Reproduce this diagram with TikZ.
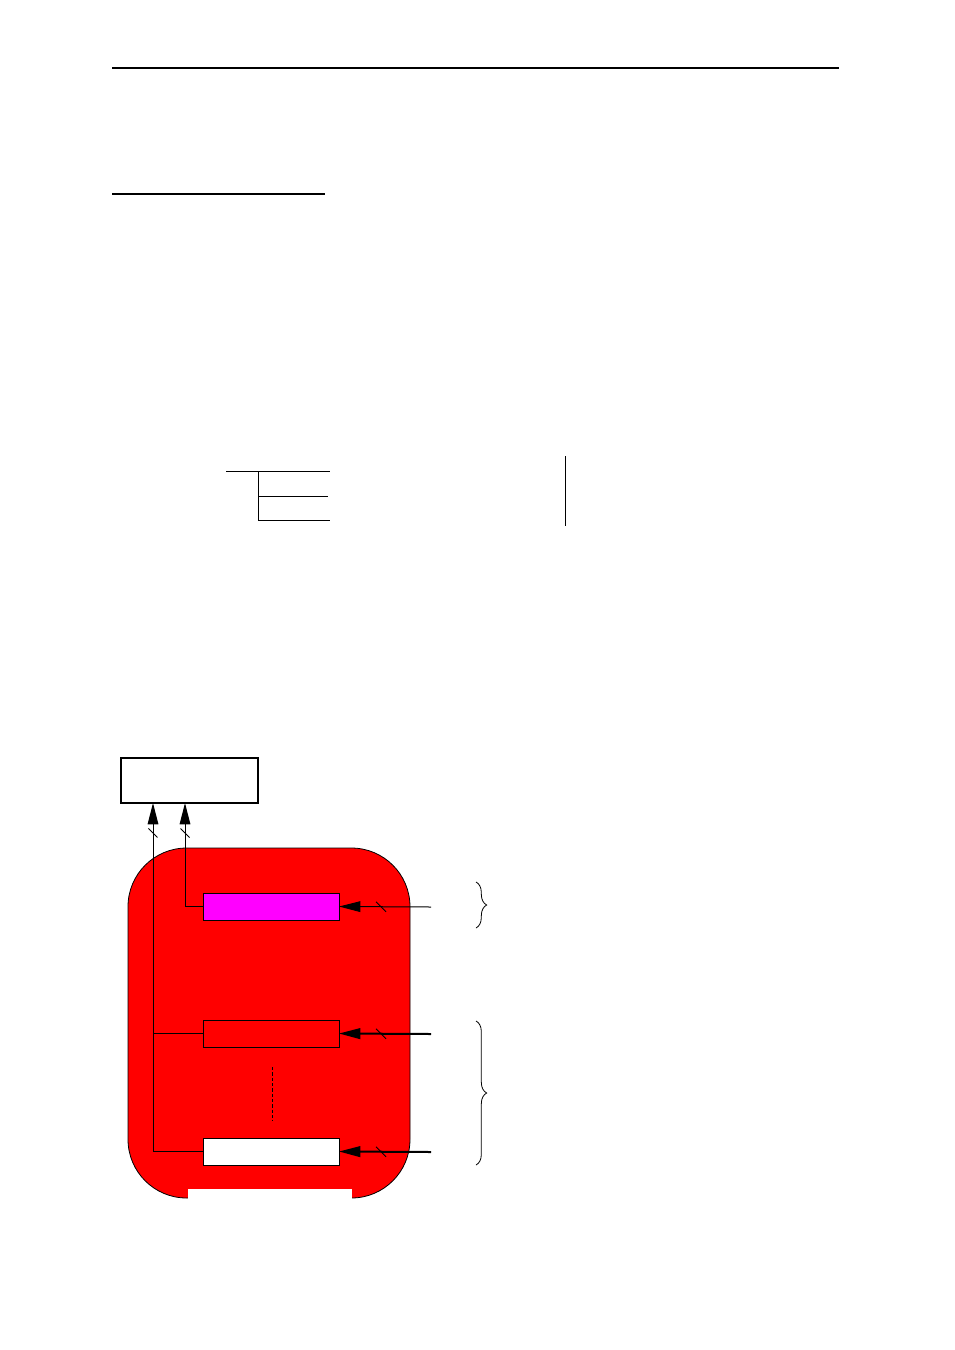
\documentclass[tikz,border=0pt]{standalone}
\usepackage{tikz}
\usetikzlibrary{arrows.meta}
\usetikzlibrary{calc}
\usetikzlibrary{decorations.pathreplacing}

\definecolor{bodyred}{RGB}{255,0,0}
\definecolor{slotpink}{RGB}{255,0,255}

\tikzset{
  slot/.style={draw, line width=0.75pt, minimum width=102pt, minimum height=20.25pt, inner sep=0pt, outer sep=0pt},
  feed/.style={-{Triangle[length=16pt,width=8pt]}, line width=0.75pt},
  busmark/.style={line width=0.7pt},
  grp/.style={decorate, decoration={brace, amplitude=8pt}, line width=0.6pt}
}

\begin{document}
\begin{tikzpicture}[x=0.75pt,y=0.75pt,yscale=-1,xscale=1]
        \useasboundingbox (0,0) rectangle (954,1350);

        %Straight Lines [header rule]
        \draw [line width=0.8pt]   (112,68) -- (839,68) ;
        %Straight Lines [heading underline]
        \draw [line width=0.8pt]   (112,194) -- (325,194) ;

        %Straight Lines [table]
        \draw    (226,471) -- (330,471) ;
        \draw    (258,471) -- (258,520) ;
        \draw    (258,496) -- (328,496) ;
        \draw    (258,520) -- (330,520) ;
        \draw    (565,456) -- (565,526) ;

        %Shape: Rounded Rect [body]
        \draw  [fill=bodyred, line width=0.6pt, rounded corners=44pt] (128,848) rectangle (410,1198) ;
        \fill  [white] (188,1189) rectangle (352,1201) ;

        %Shape: Rectangle [control box]
        \node [draw, line width=1.1pt, minimum width=102.75pt, minimum height=33.75pt, inner sep=0pt, outer sep=0pt] (ctl) at (189.5,780.5) {};
        %Shape: Rectangle [slots]
        \node [slot, fill=slotpink] (mag) at (271,906.5) {};
        \node [slot, fill=bodyred] (mid) at (271,1033.5) {};
        \node [slot, fill=white] (wht) at (271,1151.5) {};

        %Straight Lines [dots between slots]
        \draw [line width=0.6pt, dash pattern=on 2.5pt off 1.5pt]   (272,1067) -- (272,1121) ;

        % Inputs
        \coordinate (inA) at (431,907) ;
        \coordinate (inB) at (431,1034) ;
        \coordinate (inC) at (431,1152) ;
        \draw [feed] (inA) -- coordinate[pos=0.543] (tA) (mag.east) ;
        \draw [feed, line width=1.5pt] (inB) -- coordinate[pos=0.543] (tB) (mid.east) ;
        \draw [feed, line width=1.5pt] (inC) -- coordinate[pos=0.543] (tC) (wht.east) ;

        % Outputs
        \draw [feed] (mag.west) -| coordinate[pos=0.855] (tD) ($(ctl.south west)+(64,0)$) ;
        \draw [feed] (wht.west) -| coordinate[pos=0.957] (tE) ($(ctl.south west)+(32,0)$) ;
        \draw    (mid.west) -| ($(ctl.south west)+(32,40)$) ;

        % Bus marks
        \draw [busmark] (tA) ++(-5,-5) -- ++(10,10) ;
        \draw [busmark] (tB) ++(-5,-5) -- ++(10,10) ;
        \draw [busmark] (tC) ++(-5,-5) -- ++(10,10) ;
        \draw [busmark] (tD) ++(-4.5,-4.5) -- ++(9,9) ;
        \draw [busmark] (tE) ++(-4.5,-4.5) -- ++(9,9) ;

        %Shape: Brace
        \draw [grp]   (476,882) -- (476,928) ;
        \draw [grp]   (476,1021) -- (476,1165) ;
\end{tikzpicture}
\end{document}
